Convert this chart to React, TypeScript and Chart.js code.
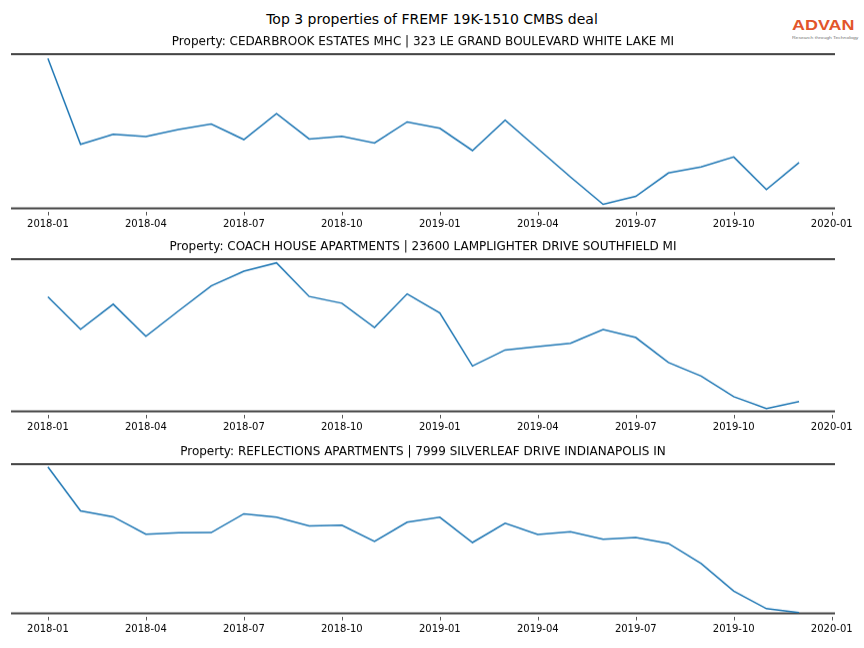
import React, { useEffect, useRef } from "react";
import { Chart, registerables } from "chart.js";

Chart.register(...registerables);

const months = [
  "2018-01", "2018-02", "2018-03", "2018-04", "2018-05", "2018-06",
  "2018-07", "2018-08", "2018-09", "2018-10", "2018-11", "2018-12",
  "2019-01", "2019-02", "2019-03", "2019-04", "2019-05", "2019-06",
  "2019-07", "2019-08", "2019-09", "2019-10", "2019-11", "2019-12",
];

const tickLabels = [
  "2018-01", "2018-04", "2018-07", "2018-10", "2019-01",
  "2019-04", "2019-07", "2019-10", "2020-01",
];

const mainTitle = "Top 3 properties of FREMF 19K-1510 CMBS deal";

const propertyTitles = [
  "Property: CEDARBROOK ESTATES MHC | 323 LE GRAND BOULEVARD WHITE LAKE MI",
  "Property: COACH HOUSE APARTMENTS | 23600 LAMPLIGHTER DRIVE SOUTHFIELD MI",
  "Property: REFLECTIONS APARTMENTS | 7999 SILVERLEAF DRIVE INDIANAPOLIS IN",
];

// relative activity values (no y axis shown in the reference)
const cedarbrook = [
  149.7, 64, 74, 71.7, 78.7, 84.3, 68.7, 94.7, 69.3, 72, 65.3, 86.3,
  80, 57.7, 88, 59.7, 31.3, 4, 12, 35.3, 41.3, 51.3, 18.7, 45.7,
];
const coachHouse = [
  114.3, 82, 107, 75, 100.3, 125.3, 140, 148.3, 114.7, 108, 83.7, 117.3,
  98.3, 45.3, 61.3, 64.7, 68, 81.7, 73.7, 48.7, 35.3, 14.7, 2.7, 9.7,
];
const reflections = [
  146.7, 102.7, 96.7, 79.3, 80.7, 81, 99.7, 96.3, 87.7, 88.3, 72, 91.3,
  96.3, 71, 90.3, 79, 81.7, 74.3, 76, 70, 50, 22.3, 4.7, 0.7,
];

const yRanges = [
  [0, 154],
  [0, 152],
  [0, 149.5],
];

const seriesList = [cedarbrook, coachHouse, reflections];

// layout of the three panels (spine top / bottom pixel rows)
const panels = [
  { top: 54, bottom: 208 },
  { top: 259, bottom: 411 },
  { top: 464, bottom: 613 },
];

const TITLE_BLOCK = 26;
const TICK_PAD = 9.5;
const AXIS_BLOCK = 2 * TICK_PAD + 11.5;
const BOTTOM_PAD = 3;

const spinePlugin = {
  id: "spines",
  beforeDatasetsDraw(chart: any) {
    const { ctx, chartArea } = chart;
    const { left, right, top, bottom } = chartArea;
    ctx.save();
    ctx.strokeStyle = "#454545";
    ctx.lineWidth = 2;
    ctx.beginPath();
    ctx.moveTo(left, top);
    ctx.lineTo(right, top);
    ctx.moveTo(left, bottom);
    ctx.lineTo(right, bottom);
    ctx.stroke();
    const xs = chart.scales.x;
    ctx.strokeStyle = "#555";
    ctx.lineWidth = 1;
    ctx.beginPath();
    xs.ticks.forEach((t: any) => {
      const px = Math.round(xs.getPixelForValue(t.value)) + 0.5;
      ctx.moveTo(px, bottom + 3.5);
      ctx.lineTo(px, bottom + 7);
    });
    ctx.stroke();
    ctx.restore();
  },
};

function Panel({ index }: { index: number }) {
  const ref = useRef<HTMLCanvasElement | null>(null);
  const p = panels[index];
  const areaH = p.bottom - p.top;
  const height = TITLE_BLOCK + areaH + AXIS_BLOCK + BOTTOM_PAD;
  const top = p.top - TITLE_BLOCK;

  useEffect(() => {
    if (!ref.current) return;
    const values = seriesList[index];
    const chart = new Chart(ref.current, {
      type: "line",
      data: {
        datasets: [
          {
            data: values.map((v, i) => ({ x: months.indexOf(months[i]), y: v })),
            borderColor: "#1f77b4",
            borderWidth: 1.5,
            pointRadius: 0,
            tension: 0,
            fill: false,
          },
        ],
      },
      options: {
        animation: false,
        responsive: true,
        maintainAspectRatio: false,
        layout: { padding: { left: 11, right: 29, top: 0, bottom: BOTTOM_PAD } },
        plugins: {
          legend: { display: false },
          tooltip: { enabled: false },
          title: {
            display: true,
            text: propertyTitles[index],
            fullSize: false,
            color: "#000",
            font: { family: "DejaVu Sans", size: 12, weight: "normal" },
            padding: { top: 6.5, bottom: 5.1 },
          },
        },
        scales: {
          x: {
            type: "linear",
            min: -1.13,
            max: 24.1,
            grid: { display: false, drawTicks: false },
            border: { display: false },
            afterBuildTicks: (scale: any) => {
              scale.ticks = tickLabels.map((_, i) => ({ value: i * 3 }));
            },
            ticks: {
              padding: TICK_PAD,
              color: "#000",
              maxRotation: 0,
              autoSkip: false,
              font: { family: "DejaVu Sans", size: 10 },
              callback: (value: any) => tickLabels[Math.round(Number(value) / 3)],
            },
          },
          y: {
            display: false,
            min: yRanges[index][0],
            max: yRanges[index][1],
          },
        },
      },
      plugins: [spinePlugin],
    });
    return () => chart.destroy();
  }, [index]);

  return (
    <div style={{ position: "absolute", left: 0, top, width: 864, height }}>
      <canvas ref={ref} />
    </div>
  );
}

export default function App() {
  return (
    <div
      style={{
        position: "absolute",
        left: 0,
        top: 0,
        width: 864,
        height: 648,
        background: "#fff",
        overflow: "hidden",
      }}
    >
      <div
        style={{
          position: "absolute",
          left: 0,
          top: 10,
          width: 864,
          textAlign: "center",
          fontFamily: "DejaVu Sans",
          fontSize: 14,
          lineHeight: "18px",
          color: "#000",
        }}
      >
        {mainTitle}
      </div>
      <div
        style={{
          position: "absolute",
          left: 792,
          top: 17,
          fontFamily: "Liberation Sans",
          fontSize: 14,
          fontWeight: "bold",
          lineHeight: "16px",
          color: "#e2552b",
          transform: "scaleX(1.28)",
          transformOrigin: "left top",
          whiteSpace: "nowrap",
        }}
      >
        ADVAN
      </div>
      <div
        style={{
          position: "absolute",
          left: 792,
          top: 35,
          fontFamily: "Liberation Sans",
          fontSize: 4,
          lineHeight: "5px",
          color: "#777",
          transform: "scaleX(1.25)",
          transformOrigin: "left top",
          whiteSpace: "nowrap",
        }}
      >
        Research through Technology
      </div>
      {panels.map((_, i) => (
        <Panel key={i} index={i} />
      ))}
    </div>
  );
}
